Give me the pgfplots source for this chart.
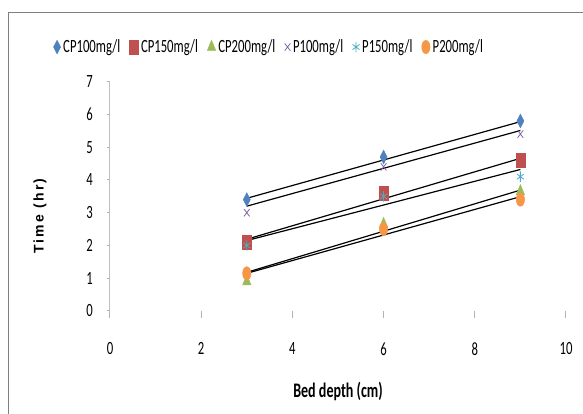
\documentclass[border=0pt]{standalone}
\usepackage{fontspec}
\setmainfont{Carlito}[FakeStretch=0.68]
\newfontfamily\axisfont{Liberation Sans}[LetterSpace=16]
\usepackage{pgfplots}
\pgfplotsset{compat=1.18}

\definecolor{cpblue}{HTML}{4F81BD}
\definecolor{cpred}{HTML}{C0504D}
\definecolor{cpgreen}{HTML}{9BBB59}
\definecolor{ppurple}{HTML}{8064A2}
\definecolor{paqua}{HTML}{4BACC6}
\definecolor{porange}{HTML}{F79646}

\pgfplotsset{
  mk/.style={only marks,
    legend image code/.code={\draw[##1,only marks] plot coordinates {(3pt,0pt)};}},
  trend/.style={black, line width=0.9pt, forget plot, no marks},
}

\begin{document}
\begin{tikzpicture}
% page = 583 x 414 px, 1px = 0.75pt, axis origin at px (110,311)
\useasboundingbox (-82.5pt,-77.25pt) rectangle (354.75pt,233.25pt);
\draw[black!50, line width=0.75pt] (-75.75pt,-80pt) -- (-75.75pt,223.5pt) -- (360pt,223.5pt);

\begin{axis}[
    scale only axis,
    width=342pt, height=172pt,
    xmin=0, xmax=10, ymin=0, ymax=7,
    xtick={0,2,...,10}, ytick={0,1,...,7},
    axis x line*=bottom, axis y line*=left,
    x axis line style={draw=none},
    y axis line style={draw=black!25, line width=0.75pt},
    tick align=outside,
    xtick style={draw=black!30, line width=0.75pt, /pgfplots/major tick length=5pt},
    ytick style={draw=black!30, line width=0.75pt, /pgfplots/major tick length=2.5pt},
    tick label style={font=\fontsize{14}{16}\selectfont},
    /pgf/number format/assume math mode=true,
    xticklabel style={yshift=-16pt},
    yticklabel style={xshift=-5pt},
    xlabel={\bfseries Bed depth (cm)},
    xlabel style={at={(axis description cs:0.5,-0.349)}, anchor=center, font=\fontsize{15.5}{17}\selectfont},
    ylabel={\axisfont\bfseries Time (hr)},
    ylabel style={at={(axis description cs:-0.1535,0.414)}, anchor=center, font=\fontsize{10.5}{12}\selectfont},
    legend columns=-1,
    legend style={at={(axis description cs:0.35,1.151)}, anchor=center,
      draw=none, fill=none, font=\fontsize{14}{16}\selectfont,
      /tikz/every even column/.append style={column sep=5pt}},
]

\addplot[mk, mark=diamond*, mark size=3.5pt, color=cpblue, mark options={yscale=1.45}]
  coordinates {(3,3.4) (6,4.7) (9,5.8)};
\addlegendentry{CP100mg/l}

\addplot[mk, mark=square*, mark size=3.3pt, color=cpred, mark options={yscale=1.6}]
  coordinates {(3,2.1) (6,3.6) (9,4.6)};
\addlegendentry{CP150mg/l}

\addplot[mk, mark=triangle*, mark size=3.6pt, color=cpgreen, mark options={yscale=1.4}]
  coordinates {(3,0.9) (6,2.65) (9,3.65)};
\addlegendentry{CP200mg/l}

\addplot[mk, mark=x, mark size=3pt, color=ppurple, mark options={yscale=1.3, line width=0.6pt}]
  coordinates {(3,3.0) (6,4.4) (9,5.4)};
\addlegendentry{P100mg/l}

\addplot[mk, mark=asterisk, mark size=3pt, color=paqua, mark options={yscale=1.3, line width=0.6pt}]
  coordinates {(3,2.0) (6,3.5) (9,4.1)};
\addlegendentry{P150mg/l}

\addplot[mk, mark=*, mark size=3.1pt, color=porange, mark options={yscale=1.6}]
  coordinates {(3,1.15) (6,2.5) (9,3.4)};
\addlegendentry{P200mg/l}

% trendlines
\addplot[trend] coordinates {(3,3.44) (9,5.78)};
\addplot[trend] coordinates {(3,3.20) (9,5.51)};
\addplot[trend] coordinates {(3,2.19) (9,4.66)};
\addplot[trend] coordinates {(3,2.15) (9,4.32)};
\addplot[trend] coordinates {(3,1.18) (9,3.69)};
\addplot[trend] coordinates {(3,1.15) (9,3.49)};

\end{axis}
\end{tikzpicture}
\end{document}
